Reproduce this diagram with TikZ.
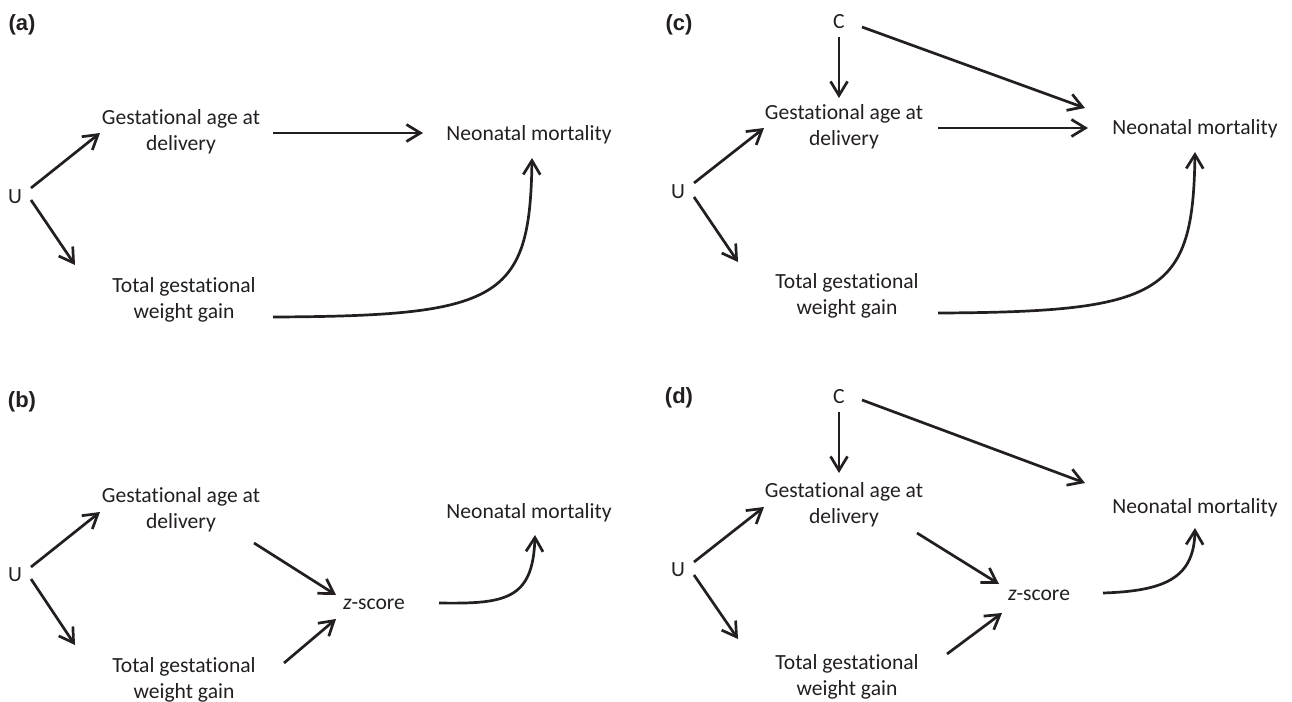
\documentclass[tikz,border=0pt]{standalone}
\usepackage{fontspec}
\setmainfont{Carlito}[Ligatures=NoCommon]
\newfontfamily\panelfont{Liberation Sans}
\usepackage{tikz}
\usetikzlibrary{arrows.meta}
\definecolor{ink}{RGB}{35,31,32}

\begin{document}
\begin{tikzpicture}
		[x=0.5pt, y=-0.5pt, color=ink,
		 var/.style={align=center, inner sep=0pt, font=\fontsize{10.8}{12.8}\selectfont},
		 panel/.style={inner sep=0pt, font=\panelfont\bfseries\fontsize{11}{13}\selectfont},
		 arr/.style={-{Straight Barb[length=7pt,width=8.5pt]}, line width=1.35pt}]
		\useasboundingbox (0,0) rectangle (1292,702);

		% (a) nodes %
		\node[panel] (la) at (22,25) {(a)};
		\node[var] (ua) at (15,197) {U};
		\node[var] (gaa) at (181,132) {Gestational age at\\delivery};
		\node[var] (tga) at (184,300) {Total gestational\\weight gain};
		\node[var] (nma) at (529,135) {Neonatal mortality};

		% (a) edges %
		\draw[arr] ([shift={(16,-9)}]ua.center) -- ([shift={(-81,1)}]gaa.center);
		\draw[arr] ([shift={(16,3)}]ua.center) -- ([shift={(-109,-35)}]tga.center);
		\draw[arr] ([shift={(92,1)}]gaa.center) -- ([shift={(-106,-2)}]nma.center);
		\draw[arr] ([shift={(89,17)}]tga.center) .. controls +(227,-1) and +(-2,142) .. ([shift={(3,23)}]nma.center);

		% (b) nodes %
		\node[panel] (lb) at (22,402) {(b)};
		\node[var] (ub) at (15,575) {U};
		\node[var] (gab) at (181,510) {Gestational age at\\delivery};
		\node[var] (tgb) at (184,680) {Total gestational\\weight gain};
		\node[var] (zb) at (374,604) {\textit{z}-score};
		\node[var] (nmb) at (529,513) {Neonatal mortality};

		% (b) edges %
		\draw[arr] ([shift={(16,-8)}]ub.center) -- ([shift={(-81,2)}]gab.center);
		\draw[arr] ([shift={(16,4)}]ub.center) -- ([shift={(-109,-35)}]tgb.center);
		\draw[arr] ([shift={(73,33)}]gab.center) -- ([shift={(-38,-9)}]zb.center);
		\draw[arr] ([shift={(100,-17)}]tgb.center) -- ([shift={(-38,15)}]zb.center);
		\draw[arr] ([shift={(65,-1)}]zb.center) .. controls +(66,1) and +(-2,65) .. ([shift={(6,22)}]nmb.center);

		% (c) nodes %
		\node[panel] (lc) at (679,25) {(c)};
		\node[var] (cc) at (839,22) {C};
		\node[var] (uc) at (678,192) {U};
		\node[var] (gac) at (844,127) {Gestational age at\\delivery};
		\node[var] (tgc) at (847,296) {Total gestational\\weight gain};
		\node[var] (nmc) at (1195,129) {Neonatal mortality};

		% (c) edges %
		\draw[arr] ([shift={(0,15)}]cc.center) -- ([shift={(-5,-29)}]gac.center);
		\draw[arr] ([shift={(23,5)}]cc.center) -- ([shift={(-110,-21)}]nmc.center);
		\draw[arr] ([shift={(94,1)}]gac.center) -- ([shift={(-107,-1)}]nmc.center);
		\draw[arr] ([shift={(16,-9)}]uc.center) -- ([shift={(-80,1)}]gac.center);
		\draw[arr] ([shift={(16,5)}]uc.center) -- ([shift={(-109,-34)}]tgc.center);
		\draw[arr] ([shift={(91,17)}]tgc.center) .. controls +(225,-1) and +(-2,142) .. ([shift={(0,23)}]nmc.center);

		% (d) nodes %
		\node[panel] (ld) at (679,398) {(d)};
		\node[var] (cd) at (839,397) {C};
		\node[var] (ud) at (678,570) {U};
		\node[var] (gad) at (844,505) {Gestational age at\\delivery};
		\node[var] (tgd) at (847,677) {Total gestational\\weight gain};
		\node[var] (zd) at (1039,595) {\textit{z}-score};
		\node[var] (nmd) at (1195,508) {Neonatal mortality};

		% (d) edges %
		\draw[arr] ([shift={(0,15)}]cd.center) -- ([shift={(-5,-32)}]gad.center);
		\draw[arr] ([shift={(23,3)}]cd.center) -- ([shift={(-110,-25)}]nmd.center);
		\draw[arr] ([shift={(16,-8)}]ud.center) -- ([shift={(-80,2)}]gad.center);
		\draw[arr] ([shift={(16,5)}]ud.center) -- ([shift={(-109,-38)}]tgd.center);
		\draw[arr] ([shift={(73,28)}]gad.center) -- ([shift={(-40,-11)}]zd.center);
		\draw[arr] ([shift={(100,-23)}]tgd.center) -- ([shift={(-37,18)}]zd.center);
		\draw[arr] ([shift={(64,-2)}]zd.center) .. controls +(62,-2) and +(-1,50) .. ([shift={(0,20)}]nmd.center);
\end{tikzpicture}
\end{document}
